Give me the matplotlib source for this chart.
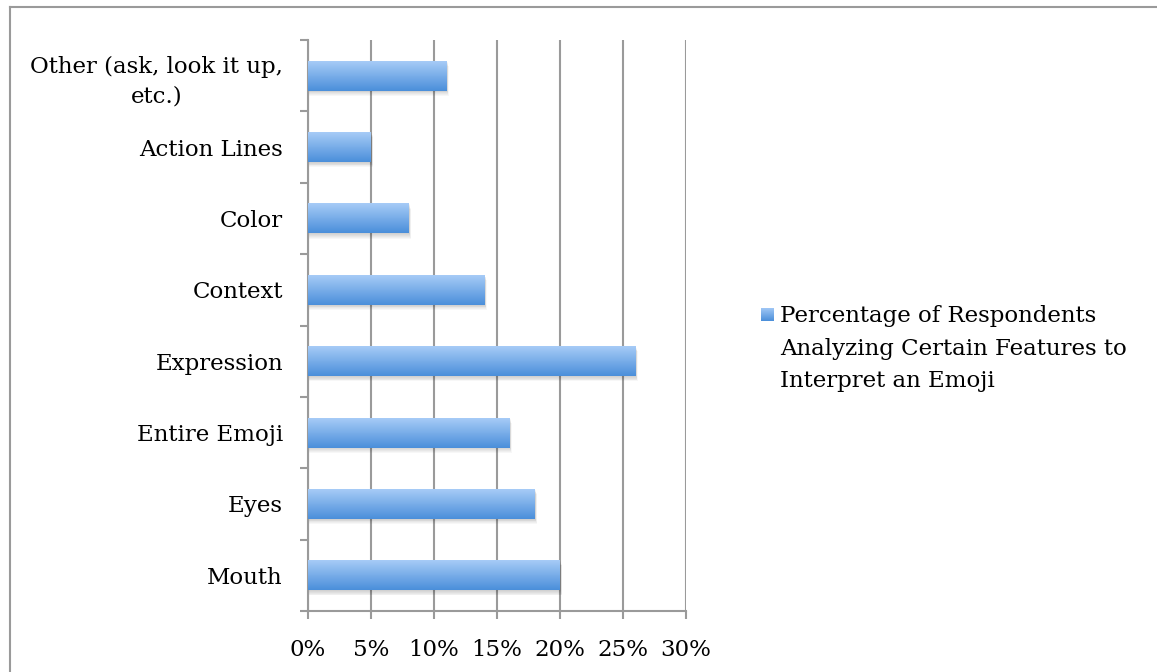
import matplotlib.pyplot as plt
import matplotlib.patches as mpatches
import numpy as np

categories = ["Mouth", "Eyes", "Entire Emoji", "Expression", "Context",
              "Color", "Action Lines", "Other (ask, look it up,\netc.)"]
values = [20, 18, 16, 26, 14, 8, 5, 11]
xticks = [0, 5, 10, 15, 20, 25, 30]
series_name = "Percentage of Respondents\nAnalyzing Certain Features to\nInterpret an Emoji"

plt.rcParams['font.family'] = ['DejaVu Serif']
grey = '#9a9a9a'
W, H = 1157, 672
fs = 16.5

fig = plt.figure(figsize=(W / 100, H / 100), dpi=100)
ax = fig.add_axes([308 / W, 61 / H, 378 / W, 571 / H])

# light-to-dark vertical gradient for the bars
grad = np.linspace(0, 1, 64).reshape(-1, 1)
cmap = plt.matplotlib.colors.LinearSegmentedColormap.from_list(
    'bar', ['#a6cbf7', '#4b8fda'])

y = np.arange(len(categories))
h = 0.42
bars = ax.barh(y, values, height=h, color='none', edgecolor='none', zorder=3)
for b in bars:
    x0, y0 = b.get_x(), b.get_y()
    w = b.get_width()
    # soft drop shadow underneath
    for k in range(6):
        d = 0.012 * (k + 1)
        ax.add_patch(mpatches.Rectangle((x0 + 0.05, y0 - d), w + 0.02 * (k + 1), h,
                                        facecolor='#000000', alpha=0.03,
                                        edgecolor='none', zorder=2))
    im = ax.imshow(grad, cmap=cmap, aspect='auto', zorder=3,
                   extent=[x0, x0 + w, y0, y0 + h], origin='upper')
    im.set_clip_path(b)

ax.set_xlim(0, 30)
ax.set_ylim(-0.5, len(categories) - 0.5)
ax.set_xticks(xticks)
ax.set_xticklabels([f"{t}%" for t in xticks])
ax.set_yticks(y)
ax.set_yticklabels(categories, multialignment='center', linespacing=1.45)
ax.set_yticks(np.arange(-0.5, len(categories), 1), minor=True)

ax.grid(axis='x', color=grey, lw=1.5, zorder=1)
ax.tick_params(axis='y', which='major', length=0, pad=18, labelsize=fs)
ax.tick_params(axis='y', which='minor', length=6, width=1.5, color=grey)
ax.tick_params(axis='x', length=6, width=1.5, color=grey, pad=14, labelsize=fs)
for s in ['top', 'right']:
    ax.spines[s].set_visible(False)
for s in ['left', 'bottom']:
    ax.spines[s].set_color(grey)
    ax.spines[s].set_linewidth(1.5)

# legend: gradient square plus the series name
lax = fig.add_axes([761 / W, 1 - 321 / H, 13 / W, 13 / H])
lax.imshow(grad, cmap=cmap, aspect='auto')
lax.axis('off')
fig.text(780 / W, 1 - 305 / H, series_name, fontsize=fs, va='top',
         linespacing=1.62)

# outer frame
fig.add_artist(plt.Line2D([9.5 / W, 9.5 / W], [0, 1 - 7 / H], color=grey, lw=1.5))
fig.add_artist(plt.Line2D([9.5 / W, 1], [1 - 7 / H, 1 - 7 / H], color=grey, lw=1.5))

fig.savefig('out.png', dpi=100)
